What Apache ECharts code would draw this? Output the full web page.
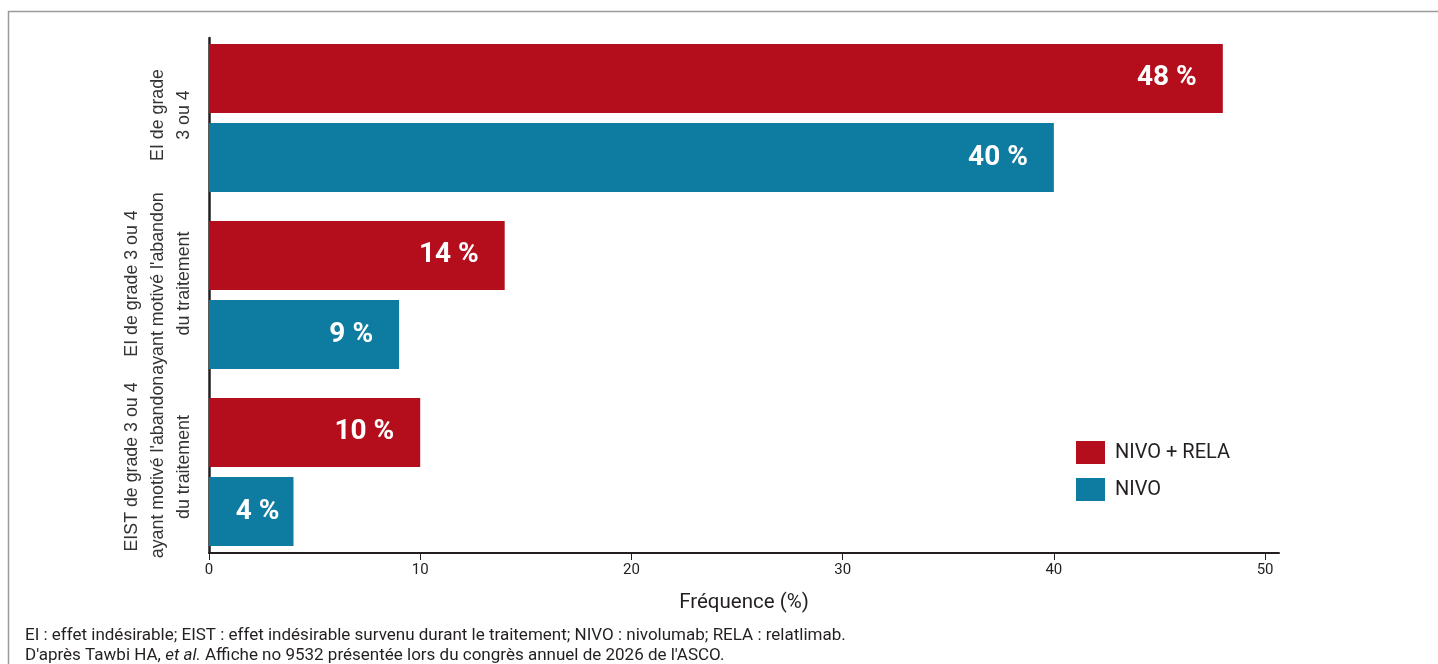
<!DOCTYPE html>
<html lang="fr">
<head>
<meta charset="utf-8">
<title>Fréquence des effets indésirables</title>
<script src="https://cdn.jsdelivr.net/npm/echarts@6/dist/echarts.min.js"></script>
<style>
  html, body { margin: 0; padding: 0; background: #ffffff; }
  #chart { width: 1438px; height: 664px; }
</style>
</head>
<body>
<div id="chart"></div>
<script>
// Catégories (de haut en bas) et fréquences en %
const categories = [
  'EI de grade\n3 ou 4',
  'EI de grade 3 ou 4\nayant motivé l\'abandon\ndu traitement',
  'EIST de grade 3 ou 4\nayant motivé l\'abandon\ndu traitement'
];
const seriesNames = ['NIVO + RELA', 'NIVO'];
const nivoRela = [48, 14, 10];
const nivo = [40, 9, 4];
const xTicks = [0, 10, 20, 30, 40, 50];

const RED = '#B40E1C';
const BLUE = '#0E7BA0';
const DIN = 'Roboto, "DejaVu Sans", sans-serif';
const AXIS_MAX = 50.66;

// décalage (px, vers le haut) des libellés verticaux de chaque catégorie
const labelLift = [6, 23, 10];

const chart = echarts.init(document.getElementById('chart'), null, { renderer: 'canvas' });

const valueLabel = {
  show: true,
  position: 'insideRight',
  distance: 26,
  color: '#ffffff',
  fontFamily: DIN,
  fontWeight: 'bold',
  fontSize: 28,
  formatter: p => p.value + ' %'
};

// le plus petit bar garde son étiquette plus près de l'extrémité
const nivoData = nivo.map(v => v < 5 ? { value: v, label: { distance: 14 } } : v);

const categoryItems = categories.map((c, i) => ({
  value: c,
  textStyle: { padding: [0, 0, 0, labelLift[i]] }
}));

const option = {
  backgroundColor: '#ffffff',
  animation: false,
  grid: [
    // axes visibles
    { left: 209, right: 159, top: 38, bottom: 111, containLabel: false },
    // barres
    { left: 209, right: 159, top: 29.5, height: 531, containLabel: false }
  ],
  xAxis: [
    {
      gridIndex: 0,
      type: 'value',
      min: 0,
      max: AXIS_MAX,
      interval: 10,
      splitLine: { show: false },
      axisLine: { show: true, lineStyle: { color: '#231f20', width: 2 } },
      axisTick: { show: true, length: 7, customValues: xTicks, lineStyle: { color: '#231f20', width: 1 } },
      axisLabel: {
        customValues: xTicks,
        margin: 10,
        color: '#231f20',
        fontFamily: DIN,
        fontSize: 15,
        formatter: v => (xTicks.indexOf(v) >= 0 ? String(v) : '')
      },
      name: 'Fréquence (%)',
      nameLocation: 'middle',
      nameGap: 39,
      nameTextStyle: { color: '#231f20', fontFamily: DIN, fontSize: 20.5 }
    },
    {
      gridIndex: 1,
      type: 'value',
      min: 0,
      max: AXIS_MAX,
      show: false
    }
  ],
  yAxis: [
    {
      gridIndex: 0,
      type: 'category',
      data: categories,
      inverse: true,
      axisLine: { show: true, lineStyle: { color: '#231f20', width: 2.5 } },
      axisTick: { show: false },
      axisLabel: { show: false },
      splitLine: { show: false }
    },
    {
      gridIndex: 1,
      type: 'category',
      data: categoryItems,
      inverse: true,
      axisLine: { show: false },
      axisTick: { show: false },
      splitLine: { show: false },
      axisLabel: {
        interval: 0,
        hideOverlap: false,
        rotate: 90,
        margin: 12,
        color: '#333333',
        fontFamily: '"Liberation Sans", Arial, sans-serif',
        fontSize: 17.8,
        lineHeight: 26,
        align: 'center'
      }
    }
  ],
  legend: {
    orient: 'vertical',
    left: 1076,
    top: 441,
    padding: 0,
    itemWidth: 29,
    itemHeight: 23,
    itemGap: 14,
    icon: 'rect',
    data: seriesNames,
    textStyle: { color: '#231f20', fontFamily: DIN, fontSize: 20, padding: [0, 0, 0, 5] }
  },
  title: {
    left: 25,
    top: 626,
    padding: 0,
    text: 'EI : effet indésirable; EIST : effet indésirable survenu durant le traitement; NIVO : nivolumab; RELA : relatlimab.\n' +
          '{n|D\'après Tawbi HA, }{i|et al.}{n| Affiche no 9532 présentée lors du congrès annuel de 2026 de l\'ASCO.}',
    textStyle: {
      color: '#231f20',
      fontFamily: DIN,
      fontSize: 17,
      fontWeight: 'normal',
      lineHeight: 19.5,
      rich: {
        n: { color: '#231f20', fontFamily: DIN, fontSize: 17, lineHeight: 19.5 },
        i: { color: '#231f20', fontFamily: DIN, fontSize: 17, lineHeight: 19.5, fontStyle: 'italic' }
      }
    }
  },
  graphic: [
    {
      type: 'rect',
      silent: true,
      shape: { x: 8.5, y: 11.5, width: 1460, height: 700 },
      style: { fill: 'none', stroke: '#9a9a9a', lineWidth: 1.5 }
    }
  ],
  series: [
    {
      name: seriesNames[0],
      type: 'bar',
      xAxisIndex: 1,
      yAxisIndex: 1,
      data: nivoRela,
      barWidth: 69,
      barGap: '14.5%',
      itemStyle: { color: RED },
      label: valueLabel
    },
    {
      name: seriesNames[1],
      type: 'bar',
      xAxisIndex: 1,
      yAxisIndex: 1,
      data: nivoData,
      barWidth: 69,
      barGap: '14.5%',
      itemStyle: { color: BLUE },
      label: valueLabel
    }
  ]
};

chart.setOption(option);
</script>
</body>
</html>
